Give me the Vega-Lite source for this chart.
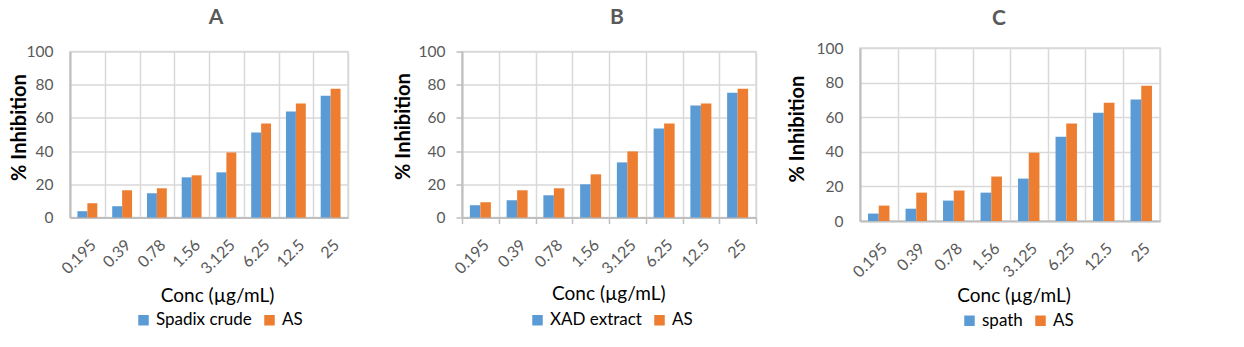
{
  "$schema": "https://vega.github.io/schema/vega-lite/v6.json",
  "autosize": {"type": "none"},
  "padding": {"left": 70, "top": 48, "right": 1174, "bottom": 299},
  "background": "white",
  "spacing": 0,
  "bounds": "flush",
  "center": true,
  "datasets": {
    "A": [
      {"conc": "0.195", "series": "Spadix crude", "value": 3.8},
      {"conc": "0.195", "series": "AS", "value": 8.6},
      {"conc": "0.39", "series": "Spadix crude", "value": 6.8},
      {"conc": "0.39", "series": "AS", "value": 16.4},
      {"conc": "0.78", "series": "Spadix crude", "value": 14.6},
      {"conc": "0.78", "series": "AS", "value": 17.6},
      {"conc": "1.56", "series": "Spadix crude", "value": 24.2},
      {"conc": "1.56", "series": "AS", "value": 25.4},
      {"conc": "3.125", "series": "Spadix crude", "value": 27.2},
      {"conc": "3.125", "series": "AS", "value": 39.2},
      {"conc": "6.25", "series": "Spadix crude", "value": 51.2},
      {"conc": "6.25", "series": "AS", "value": 56.6},
      {"conc": "12.5", "series": "Spadix crude", "value": 63.8},
      {"conc": "12.5", "series": "AS", "value": 68.6},
      {"conc": "25", "series": "Spadix crude", "value": 73.4},
      {"conc": "25", "series": "AS", "value": 77.6}
    ],
    "B": [
      {"conc": "0.195", "series": "XAD extract", "value": 7.4},
      {"conc": "0.195", "series": "AS", "value": 9.2},
      {"conc": "0.39", "series": "XAD extract", "value": 10.4},
      {"conc": "0.39", "series": "AS", "value": 16.4},
      {"conc": "0.78", "series": "XAD extract", "value": 13.4},
      {"conc": "0.78", "series": "AS", "value": 17.6},
      {"conc": "1.56", "series": "XAD extract", "value": 20.0},
      {"conc": "1.56", "series": "AS", "value": 26.0},
      {"conc": "3.125", "series": "XAD extract", "value": 33.2},
      {"conc": "3.125", "series": "AS", "value": 39.8},
      {"conc": "6.25", "series": "XAD extract", "value": 53.6},
      {"conc": "6.25", "series": "AS", "value": 56.6},
      {"conc": "12.5", "series": "XAD extract", "value": 67.4},
      {"conc": "12.5", "series": "AS", "value": 68.6},
      {"conc": "25", "series": "XAD extract", "value": 75.2},
      {"conc": "25", "series": "AS", "value": 77.6}
    ],
    "C": [
      {"conc": "0.195", "series": "spath", "value": 4.3},
      {"conc": "0.195", "series": "AS", "value": 8.9},
      {"conc": "0.39", "series": "spath", "value": 7.1},
      {"conc": "0.39", "series": "AS", "value": 16.4},
      {"conc": "0.78", "series": "spath", "value": 11.8},
      {"conc": "0.78", "series": "AS", "value": 17.6},
      {"conc": "1.56", "series": "spath", "value": 16.4},
      {"conc": "1.56", "series": "AS", "value": 25.7},
      {"conc": "3.125", "series": "spath", "value": 24.5},
      {"conc": "3.125", "series": "AS", "value": 39.5},
      {"conc": "6.25", "series": "spath", "value": 48.7},
      {"conc": "6.25", "series": "AS", "value": 56.3},
      {"conc": "12.5", "series": "spath", "value": 62.6},
      {"conc": "12.5", "series": "AS", "value": 68.4},
      {"conc": "25", "series": "spath", "value": 70.2},
      {"conc": "25", "series": "AS", "value": 78.2}
    ],
    "empty": []
  },
  "hconcat": [
    {
      "data": {"name": "A"},
      "width": 278,
      "height": 166,
      "title": {"text": "A", "dx": 7, "offset": 17},
      "mark": {"type": "bar"},
      "encoding": {
        "x": {
          "field": "conc", "type": "ordinal",
          "sort": ["0.195", "0.39", "0.78", "1.56", "3.125", "6.25", "12.5", "25"],
          "scale": {"paddingInner": 0, "paddingOuter": 0},
          "axis": {"title": "Conc (µg/mL)", "titleX": 147, "titleY": 77.5, "ticks": false, "tickSize": 0, "labelPadding": 19}
        },
        "xOffset": {"field": "series", "sort": ["Spadix crude", "AS"], "scale": {"paddingInner": 0, "paddingOuter": 0.75}},
        "y": {
          "field": "value", "type": "quantitative",
          "scale": {"domain": [0, 100]},
          "axis": {"title": "% Inhibition", "titleX": -51, "titleY": 75.5, "ticks": false, "tickSize": 0, "labelPadding": 17, "tickCount": 5}
        },
        "color": {
          "field": "series", "type": "nominal", "sort": ["Spadix crude", "AS"],
          "scale": {"range": ["#5B9BD5", "#ED7D31"]},
          "legend": {"legendX": 65, "legendY": 260}
        }
      }
    },
    {
      "data": {"name": "empty"},
      "width": 114,
      "height": 166,
      "view": {"stroke": null},
      "mark": {"type": "point"},
      "encoding": {}
    },
    {
      "data": {"name": "B"},
      "width": 294,
      "height": 166,
      "title": {"text": "B", "dx": 8, "offset": 17},
      "mark": {"type": "bar"},
      "encoding": {
        "x": {
          "field": "conc", "type": "ordinal",
          "sort": ["0.195", "0.39", "0.78", "1.56", "3.125", "6.25", "12.5", "25"],
          "scale": {"paddingInner": 0, "paddingOuter": 0},
          "axis": {"title": "Conc (µg/mL)", "titleX": 146.3, "titleY": 75.8, "ticks": true, "tickSize": 6, "labelPadding": 13}
        },
        "xOffset": {"field": "series", "sort": ["XAD extract", "AS"], "scale": {"paddingInner": 0, "paddingOuter": 0.75}},
        "y": {
          "field": "value", "type": "quantitative",
          "scale": {"domain": [0, 100]},
          "axis": {"title": "% Inhibition", "titleX": -59, "titleY": 74.5, "ticks": true, "tickSize": 6, "labelPadding": 11, "tickCount": 5}
        },
        "color": {
          "field": "series", "type": "nominal", "sort": ["XAD extract", "AS"],
          "scale": {"range": ["#5B9BD5", "#ED7D31"]},
          "legend": {"legendX": 67, "legendY": 260}
        }
      }
    },
    {
      "data": {"name": "empty"},
      "width": 104,
      "height": 166,
      "view": {"stroke": null},
      "mark": {"type": "point"},
      "encoding": {}
    },
    {
      "data": {"name": "C"},
      "width": 300,
      "height": 173,
      "title": {"text": "C", "dx": -11, "offset": 12},
      "mark": {"type": "bar"},
      "encoding": {
        "x": {
          "field": "conc", "type": "ordinal",
          "sort": ["0.195", "0.39", "0.78", "1.56", "3.125", "6.25", "12.5", "25"],
          "scale": {"paddingInner": 0, "paddingOuter": 0},
          "axis": {"title": "Conc (µg/mL)", "titleX": 153.5, "titleY": 74, "ticks": false, "tickSize": 0, "labelPadding": 19}
        },
        "xOffset": {"field": "series", "sort": ["spath", "AS"], "scale": {"paddingInner": 0, "paddingOuter": 0.75}},
        "y": {
          "field": "value", "type": "quantitative",
          "scale": {"domain": [0, 100]},
          "axis": {"title": "% Inhibition", "titleX": -63, "titleY": 80.5, "ticks": false, "tickSize": 0, "labelPadding": 17, "tickCount": 5}
        },
        "color": {
          "field": "series", "type": "nominal", "sort": ["spath", "AS"],
          "scale": {"range": ["#5B9BD5", "#ED7D31"]},
          "legend": {"legendX": 101, "legendY": 264}
        }
      }
    }
  ],
  "resolve": {
    "scale": {"color": "independent", "x": "independent", "y": "independent", "xOffset": "independent"},
    "legend": {"color": "independent"}
  },
  "config": {
    "font": "Lato",
    "view": {"stroke": "#D9D9D9", "strokeWidth": 1.5},
    "bar": {"stroke": null},
    "axis": {
      "grid": true,
      "gridColor": "#D9D9D9",
      "gridWidth": 1.5,
      "domainColor": "#BFBFBF",
      "domainWidth": 2,
      "tickColor": "#BFBFBF",
      "tickWidth": 1.5,
      "labelFont": "Lato",
      "labelFontSize": 15.5,
      "labelColor": "#595959",
      "titleFont": "Lato",
      "titleColor": "#000000",
      "titleAlign": "center",
      "titleBaseline": "middle"
    },
    "axisX": {
      "labelAngle": -45,
      "labelFontSize": 16,
      "tickBand": "extent",
      "titleFontSize": 19,
      "titleFontWeight": "normal",
      "titleAngle": 0
    },
    "axisY": {
      "titleFontSize": 20,
      "titleFontWeight": "bold",
      "titleAngle": -90
    },
    "legend": {
      "orient": "none",
      "direction": "horizontal",
      "title": null,
      "symbolType": "square",
      "symbolSize": 110,
      "symbolStrokeWidth": 0,
      "labelFont": "Lato",
      "labelFontSize": 17,
      "labelColor": "#000000",
      "labelOffset": 4,
      "columnPadding": 9
    },
    "title": {
      "font": "Lato",
      "fontSize": 21,
      "fontWeight": "bold",
      "color": "#595959",
      "anchor": "middle",
      "frame": "group"
    }
  }
}
